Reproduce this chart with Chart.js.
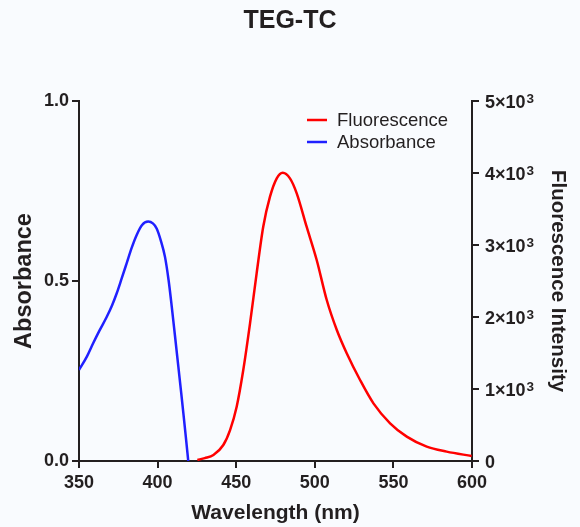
<!DOCTYPE html>
<html>
<head>
<meta charset="utf-8">
<script src="https://cdn.jsdelivr.net/npm/chart.js@4.4.0/dist/chart.umd.min.js"></script>
<style>
  html, body { margin: 0; padding: 0; background: #f9fbfe; }
  #wrap { width: 580px; height: 527px; }
</style>
</head>
<body>
<div id="wrap"><canvas id="myChart"></canvas></div>
<script>
// absorbance spectrum (left axis)
var absWavelength = [350, 355, 359, 363, 367.6, 371, 374, 377, 380.3, 383.5, 386.7, 390, 394, 397, 399.4, 402, 404.7, 407, 409, 411, 413.2, 415, 416.4, 418, 419.5];
var absValues = [0.253, 0.29, 0.327, 0.362, 0.40, 0.432, 0.466, 0.505, 0.549, 0.592, 0.628, 0.655, 0.665, 0.66, 0.646, 0.613, 0.567, 0.502, 0.429, 0.35, 0.262, 0.19, 0.132, 0.065, 0.0];

// fluorescence spectrum (right axis)
var flWavelength = [425.3, 430, 435.5, 441.8, 446.1, 450.3, 454.5, 458.8, 463, 467.2, 471.5, 475.8, 479.6, 484.2, 488.5, 494.8, 501.2, 507.6, 514, 520.3, 528.8, 537.3, 547.9, 558.5, 571.2, 583.9, 599.8];
var flValues = [14, 40, 83, 222, 430, 754, 1264, 1912, 2607, 3254, 3671, 3926, 4004, 3926, 3718, 3254, 2792, 2236, 1819, 1496, 1125, 801, 524, 338, 199, 130, 69];

var xTicks = [350, 400, 450, 500, 550, 600];
var absTicks = [0, 0.5, 1.0];
var flTicks = [0, 1000, 2000, 3000, 4000, 5000];
var flTickLabels = ['0', '1×10³', '2×10³', '3×10³', '4×10³', '5×10³'];

function toPoints(xs, ys) {
  return xs.map(function (x, i) { return { x: x, y: ys[i] }; });
}

var ink = '#231f20';
var bg = '#f9fbfe';
var fam = '"Liberation Sans", Arial, sans-serif';

var bgPlugin = {
  id: 'bg',
  beforeDraw: function (chart) {
    var c = chart.ctx;
    c.save();
    c.fillStyle = bg;
    c.fillRect(0, 0, chart.width, chart.height);
    c.restore();
  }
};

// right axis labels with a real superscript exponent
var supLabels = {
  id: 'supLabels',
  afterDraw: function (chart) {
    var s = chart.scales.yFl;
    var c = chart.ctx;
    c.save();
    c.fillStyle = ink;
    c.textBaseline = 'alphabetic';
    c.textAlign = 'left';
    flTicks.forEach(function (v, i) {
      var y = s.getPixelForValue(v) + 6.5;
      var x = s.left + 13;
      var txt = flTickLabels[i];
      var sup = '';
      if (txt.slice(-1) === '³') { sup = '3'; txt = txt.slice(0, -1); }
      c.font = 'bold 18px ' + fam;
      c.fillText(txt, x, y);
      if (sup) {
        var w = c.measureText(txt).width;
        c.font = 'bold 13.5px ' + fam;
        c.fillText(sup, x + w + 1, y - 5);
      }
    });
    c.restore();
  }
};

// legend drawn inside the plot area, top right
var innerLegend = {
  id: 'innerLegend',
  afterDraw: function (chart) {
    var c = chart.ctx;
    var area = chart.chartArea;
    var x0 = area.right - 165;
    var y0 = area.top + 19;
    c.save();
    c.font = '18.5px ' + fam;
    c.textBaseline = 'middle';
    c.lineWidth = 2.5;
    chart.data.datasets.forEach(function (ds, i) {
      var y = y0 + i * 22;
      c.strokeStyle = ds.borderColor;
      c.beginPath();
      c.moveTo(x0, y);
      c.lineTo(x0 + 20, y);
      c.stroke();
      c.fillStyle = ink;
      c.fillText(ds.label, x0 + 30, y + 1);
    });
    c.restore();
  }
};

var ctx = document.getElementById('myChart').getContext('2d');
var chart = new Chart(ctx, {
  type: 'line',
  data: {
    datasets: [
      {
        label: 'Fluorescence',
        data: toPoints(flWavelength, flValues),
        yAxisID: 'yFl',
        borderColor: '#ff0000',
        borderWidth: 2.5,
        pointRadius: 0,
        tension: 0.4,
        cubicInterpolationMode: 'monotone',
        fill: false
      },
      {
        label: 'Absorbance',
        data: toPoints(absWavelength, absValues),
        yAxisID: 'yAbs',
        borderColor: '#2020ff',
        borderWidth: 2.5,
        pointRadius: 0,
        tension: 0.4,
        cubicInterpolationMode: 'monotone',
        fill: false
      }
    ]
  },
  options: {
    responsive: true,
    maintainAspectRatio: false,
    animation: false,
    layout: { padding: 0 },
    plugins: {
      legend: { display: false },
      tooltip: { enabled: false },
      title: {
        display: true,
        text: 'TEG-TC',
        color: ink,
        font: { family: fam, size: 25, weight: 'bold', lineHeight: 1.2 },
        padding: { top: 6, bottom: 65 }
      }
    },
    scales: {
      x: {
        type: 'linear',
        min: 350,
        max: 600,
        afterFit: function (s) { s.height = 66; },
        afterBuildTicks: function (s) { s.ticks = xTicks.map(function (v) { return { value: v }; }); },
        border: { display: true, color: ink, width: 2 },
        grid: { display: true, drawOnChartArea: false, drawTicks: true, tickLength: 7, color: ink, lineWidth: 2 },
        ticks: {
          color: ink,
          padding: 4,
          font: { family: fam, size: 18, weight: 'bold' }
        },
        title: {
          display: true,
          text: 'Wavelength (nm)',
          color: ink,
          font: { family: fam, size: 21, weight: 'bold', lineHeight: 1 },
          padding: { top: 0, bottom: 3 }
        }
      },
      yAbs: {
        type: 'linear',
        position: 'left',
        min: 0,
        max: 1,
        afterFit: function (s) { s.width = 79; },
        afterBuildTicks: function (s) { s.ticks = absTicks.map(function (v) { return { value: v }; }); },
        border: { display: true, color: ink, width: 2 },
        grid: { display: true, drawOnChartArea: false, drawTicks: true, tickLength: 7, color: ink, lineWidth: 2 },
        ticks: {
          color: ink,
          padding: 3,
          font: { family: fam, size: 18, weight: 'bold' },
          callback: function (v) { return v.toFixed(1); }
        },
        title: {
          display: true,
          text: 'Absorbance',
          color: ink,
          font: { family: fam, size: 23.5, weight: 'bold', lineHeight: 1.2 },
          padding: { top: 10, bottom: 0 }
        }
      },
      yFl: {
        type: 'linear',
        position: 'right',
        min: 0,
        max: 5000,
        afterFit: function (s) { s.width = 108; },
        afterBuildTicks: function (s) { s.ticks = flTicks.map(function (v) { return { value: v }; }); },
        border: { display: true, color: ink, width: 2 },
        grid: { display: true, drawOnChartArea: false, drawTicks: true, tickLength: 7, color: ink, lineWidth: 2 },
        ticks: { display: false },
        title: {
          display: true,
          text: 'Fluorescence Intensity',
          color: ink,
          font: { family: fam, size: 20.5, weight: 'bold', lineHeight: 1.2 },
          padding: { top: 10, bottom: 0 }
        }
      }
    }
  },
  plugins: [bgPlugin, supLabels, innerLegend]
});
</script>
</body>
</html>
